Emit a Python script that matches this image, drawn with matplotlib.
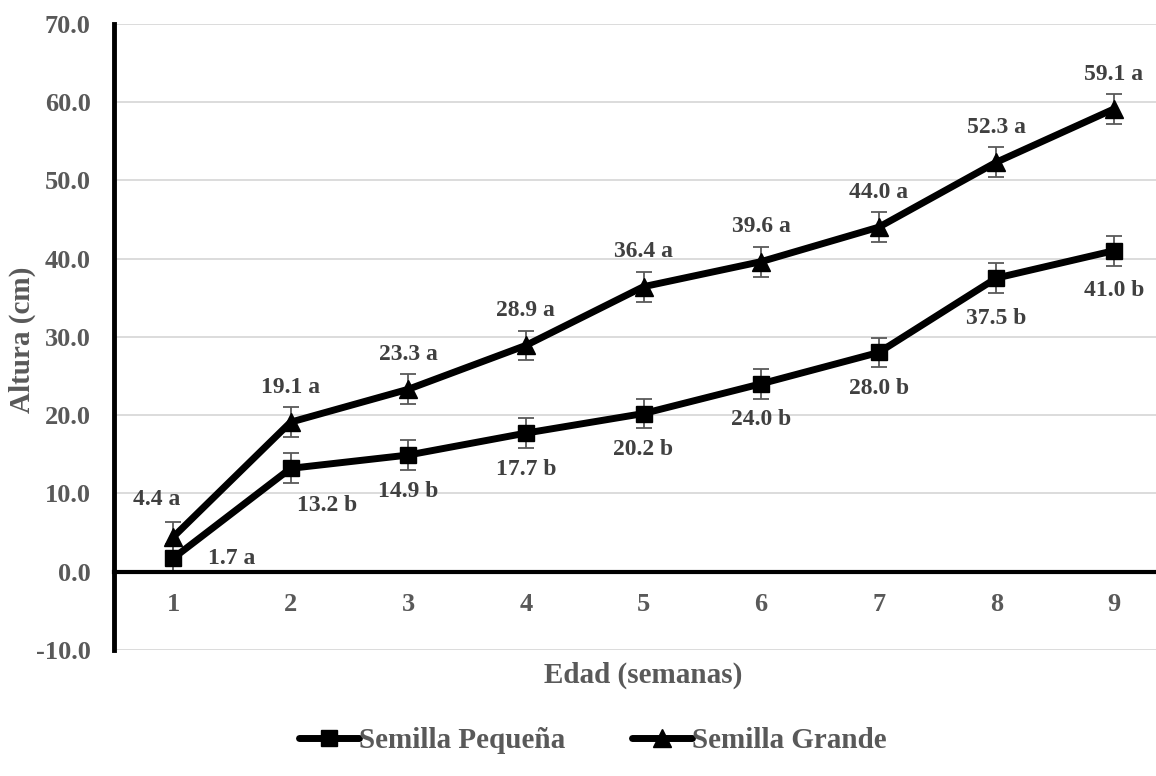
import matplotlib
matplotlib.use('Agg')
import matplotlib.pyplot as plt

# data
semanas = [1, 2, 3, 4, 5, 6, 7, 8, 9]
pequena = [1.7, 13.2, 14.9, 17.7, 20.2, 24.0, 28.0, 37.5, 41.0]
grande = [4.4, 19.1, 23.3, 28.9, 36.4, 39.6, 44.0, 52.3, 59.1]
err_pequena = [1.9, 1.9, 1.9, 1.9, 1.9, 1.9, 1.9, 1.9, 1.9]
err_grande = [1.9, 1.9, 1.9, 1.9, 1.9, 1.9, 1.9, 1.9, 1.9]
letras_pequena = ['a', 'b', 'b', 'b', 'b', 'b', 'b', 'b', 'b']
letras_grande = ['a', 'a', 'a', 'a', 'a', 'a', 'a', 'a', 'a']
yticks = [-10, 0, 10, 20, 30, 40, 50, 60, 70]

plt.rcParams['font.family'] = ['Liberation Serif', 'DejaVu Serif']
plt.rcParams['font.weight'] = 'bold'
GRIS = '#595959'
GRIS_OSC = '#404040'

fig = plt.figure(figsize=(11.56, 7.76), dpi=100)
ax = fig.add_axes([114.2 / 1156, 126 / 776, (1156 - 114.2) / 1156, (650 - 23.6) / 776])

ax.errorbar(semanas, pequena, yerr=err_pequena, fmt='none', ecolor=GRIS,
            elinewidth=1.3, capsize=5.5, capthick=1.3, zorder=2)
ax.errorbar(semanas, grande, yerr=err_grande, fmt='none', ecolor=GRIS,
            elinewidth=1.3, capsize=5.5, capthick=1.3, zorder=2)
lp, = ax.plot(semanas, pequena, color='black', lw=5, marker='s', markersize=11,
              label='Semilla Pequeña', zorder=3, solid_capstyle='round')
lg, = ax.plot(semanas, grande, color='black', lw=5, marker='^', markersize=13,
              label='Semilla Grande', zorder=3, solid_capstyle='round')

# data labels
for i, (x, y) in enumerate(zip(semanas, grande)):
    off = (0, 25)
    if i == 0:
        off = (-12, 27)
    ax.annotate(f'{y:.1f} {letras_grande[i]}', (x, y), xytext=off,
                textcoords='offset points', ha='center', va='center',
                fontsize=17, fontweight='bold', color=GRIS_OSC)
for i, (x, y) in enumerate(zip(semanas, pequena)):
    off = (0, -26)
    if i == 0:
        off = (42, 0)
    elif i == 1:
        off = (26, -27)
    elif i >= 7:
        off = (0, -29)
    ax.annotate(f'{y:.1f} {letras_pequena[i]}', (x, y), xytext=off,
                textcoords='offset points', ha='center', va='center',
                fontsize=17, fontweight='bold', color=GRIS_OSC)

ax.set_xlim(0.5, 9.357)
ax.set_ylim(-10, 70)
ax.set_yticks(yticks)
ax.set_yticklabels([f'{v:.1f}' for v in yticks])
ax.set_xticks(semanas)
ax.grid(axis='y', color='#d9d9d9', lw=1.3, zorder=0)
ax.set_axisbelow(True)

for s in ['top', 'right']:
    ax.spines[s].set_visible(False)
ax.spines['left'].set_linewidth(3.5)
ax.spines['left'].set_color('black')
ax.spines['bottom'].set_position(('data', 0))
ax.spines['bottom'].set_linewidth(3)
ax.spines['bottom'].set_color('black')
ax.tick_params(axis='both', length=0, labelsize=19, labelcolor=GRIS)
ax.tick_params(axis='x', pad=15)
ax.tick_params(axis='y', pad=17)

fig.text(22 / 1156, 1 - 340 / 776, 'Altura (cm)', rotation=90, ha='center', va='center',
         fontsize=21, fontweight='bold', color=GRIS)
fig.text(643 / 1156, 1 - 675 / 776, 'Edad (semanas)', ha='center', va='center',
         fontsize=21, fontweight='bold', color=GRIS)

leg = fig.legend(handles=[lp, lg], loc='center left', bbox_to_anchor=(299 / 1156, 1 - 741 / 776),
                 ncol=2, frameon=False, fontsize=21, handlelength=2.05,
                 handletextpad=0.0, columnspacing=2.3, borderpad=0, borderaxespad=0)
for t in leg.get_texts():
    t.set_color(GRIS)
    t.set_fontweight('bold')

fig.savefig('out.png', dpi=100)
